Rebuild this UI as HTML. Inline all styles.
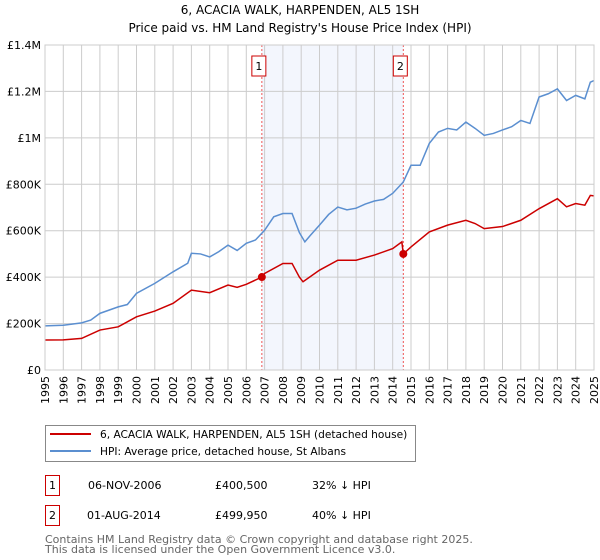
<!DOCTYPE html>
<html><head><meta charset="utf-8"><style>
body{margin:0;background:#fff;}
svg{display:block;font-family:"DejaVu Sans","Liberation Sans",sans-serif;}
</style></head><body>
<svg id="chart" width="600" height="560" viewBox="0 0 600 560">
<text x="300" y="14" text-anchor="middle" font-size="12" fill="#000">6, ACACIA WALK, HARPENDEN, AL5 1SH</text>
<text x="300" y="32" text-anchor="middle" font-size="12" fill="#000">Price paid vs. HM Land Registry's House Price Index (HPI)</text>
<g id="plot"></g>
<g>
<rect x="45.5" y="425.5" width="370" height="36" fill="#fff" stroke="#888"/>
<line x1="50" y1="434" x2="91" y2="434" stroke="#cc0000" stroke-width="2"/>
<text x="100" y="438" font-size="10.6">6, ACACIA WALK, HARPENDEN, AL5 1SH (detached house)</text>
<line x1="50" y1="451" x2="91" y2="451" stroke="#5b8fd0" stroke-width="2"/>
<text x="100" y="455" font-size="10.6">HPI: Average price, detached house, St Albans</text>
</g>
<g>
<rect x="45.5" y="475.5" width="14" height="20" fill="#fff" stroke="#cc0000"/>
<text x="52.5" y="489" font-size="11" text-anchor="middle">1</text>
<text x="88" y="489" font-size="11">06-NOV-2006</text>
<text x="215" y="489" font-size="11">£400,500</text>
<text x="312" y="489" font-size="11">32% ↓ HPI</text>
<rect x="45.5" y="505.5" width="14" height="20" fill="#fff" stroke="#cc0000"/>
<text x="52.5" y="519" font-size="11" text-anchor="middle">2</text>
<text x="87" y="519" font-size="11">01-AUG-2014</text>
<text x="215" y="519" font-size="11">£499,950</text>
<text x="312" y="519" font-size="11">40% ↓ HPI</text>
</g>
<text x="45" y="543" font-size="11" fill="#666">Contains HM Land Registry data © Crown copyright and database right 2025.</text>
<text x="45" y="553" font-size="11" fill="#666">This data is licensed under the Open Government Licence v3.0.</text>
</svg>
<script>
const hpiYears=[1995,1996,1997,1997.5,1998,1999,1999.5,2000,2001,2002,2002.8,2003,2003.5,2004,2004.5,2005,2005.5,2006,2006.5,2007,2007.5,2008,2008.5,2008.9,2009.2,2009.5,2010,2010.5,2011,2011.5,2012,2012.5,2013,2013.5,2014,2014.58,2015,2015.5,2016,2016.5,2017,2017.5,2018,2018.5,2019,2019.5,2020,2020.5,2021,2021.5,2022,2022.5,2023,2023.5,2024,2024.5,2024.8,2025];
const hpiValues=[190,193,203,215,244,272,282,330,373,423,460,503,500,487,510,538,515,546,560,602,660,674,674,592,552,580,624,670,702,690,697,715,728,735,761,810,882,882,976,1025,1041,1034,1068,1041,1011,1019,1034,1048,1075,1062,1176,1190,1211,1161,1183,1168,1240,1247];
const priceYears=[1995,1996,1997,1998,1999,2000,2001,2002,2003,2004,2005,2005.5,2006,2006.85,2007,2008,2008.5,2008.9,2009.1,2010,2011,2012,2013,2014,2014.5,2014.58,2015,2016,2017,2018,2018.5,2019,2020,2021,2022,2023,2023.5,2024,2024.5,2024.8,2025];
const priceValues=[129,130,136,172,186,229,254,287,344,333,366,356,369,400.5,416,459,459,400,380,430,473,473,495,523,552,500,530,595,624,645,631,609,618,645,695,738,703,717,710,752,750];
const saleYears=[2006.85,2014.58];
const saleValues=[400.5,499.95];
const saleLabels=["1","2"];
const yTicks=[0,200,400,600,800,1000,1200,1400];
const yTickLabels=["£0","£200K","£400K","£600K","£800K","£1M","£1.2M","£1.4M"];
const xTicks=[1995,1996,1997,1998,1999,2000,2001,2002,2003,2004,2005,2006,2007,2008,2009,2010,2011,2012,2013,2014,2015,2016,2017,2018,2019,2020,2021,2022,2023,2024,2025];

const X0=45,X1=594,Y0=370,Y1=45;
const xs=y=>X0+(y-1995)/30*(X1-X0);
const ys=v=>Y0-v/1400*(Y0-Y1);
const NS="http://www.w3.org/2000/svg";
const g=document.getElementById('plot');
function mk(t,a){const e=document.createElementNS(NS,t);for(const k in a)e.setAttribute(k,a[k]);g.appendChild(e);return e;}

const shade=mk('rect',{x:xs(saleYears[0]),y:Y1,width:xs(saleYears[1])-xs(saleYears[0]),height:Y0-Y1,fill:'#f3f6fd'});


xTicks.forEach(t=>{
  const l=mk('line',{x1:xs(t),x2:xs(t),y1:Y1,y2:Y0,stroke:'#ccc','stroke-width':1});
  
  
  const tx=mk('text',{x:0,y:0,'font-size':11,'text-anchor':'end',transform:`translate(${xs(t)+4},${Y0+6}) rotate(-90)`});
  tx.textContent=t;
  
  
});
yTicks.forEach((t,i)=>{
  const l=mk('line',{x1:X0,x2:X1,y1:ys(t),y2:ys(t),stroke:'#ccc','stroke-width':1});
  
  
  const tx=mk('text',{x:X0-4,y:ys(t)+4,'font-size':11,'text-anchor':'end'});
  tx.textContent=yTickLabels[i];
  
  
});
saleYears.forEach((s,i)=>{
  const l=mk('line',{x1:xs(s),x2:xs(s),y1:Y1,y2:Y0,stroke:'#ee5555','stroke-width':1,'stroke-dasharray':'2,2'});
  
  
  const r=mk('rect',{x:xs(s)-10,y:56,width:14,height:20,fill:'#fff',stroke:'#cc0000'});
  
  
  const tx=mk('text',{x:xs(s)-3,y:70,'font-size':11,'text-anchor':'middle'});
  tx.textContent=saleLabels[i];
  
  
});
const hp=mk('polyline',{points:hpiYears.map((y,i)=>xs(y)+','+ys(hpiValues[i])).join(' '),fill:'none',stroke:'#5b8fd0','stroke-width':1.5});


const pp=mk('polyline',{points:priceYears.map((y,i)=>xs(y)+','+ys(priceValues[i])).join(' '),fill:'none',stroke:'#cc0000','stroke-width':1.5});


saleYears.forEach((s,i)=>{
  const c=mk('circle',{cx:xs(s),cy:ys(saleValues[i]),r:4,fill:'#cc0000'});
  
  
});
const b=mk('rect',{x:X0,y:Y1,width:X1-X0,height:Y0-Y1,fill:'none',stroke:'#ccc'});


</script>
</body></html>
